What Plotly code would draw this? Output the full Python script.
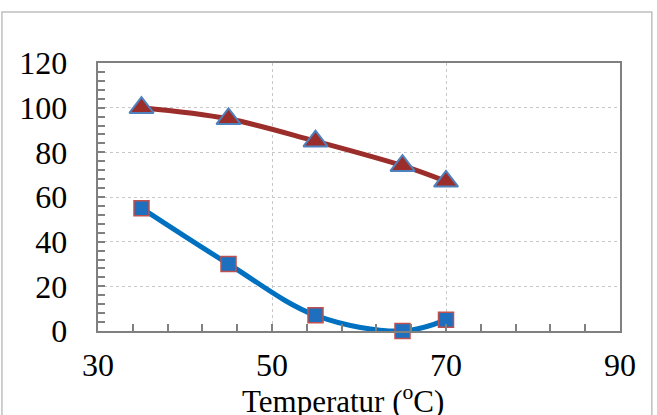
import plotly.graph_objects as go

temperature = [35, 45, 55, 65, 70]
series_triangle = [100, 95, 85, 74, 67]
series_square = [55, 30, 7, 0, 5]
x_ticks = [30, 50, 70, 90]
y_ticks = [0, 20, 40, 60, 80, 100, 120]

FONT = "Liberation Serif"

fig = go.Figure()
fig.add_trace(go.Scatter(
    x=temperature, y=series_triangle, mode="lines+markers",
    line=dict(color="#9B2D2A", width=5, shape="spline", smoothing=1),
    marker=dict(symbol="triangle-up", size=21, color="#9B2D2A",
                line=dict(color="#4F81BD", width=2)),
    showlegend=False, cliponaxis=False))
fig.add_trace(go.Scatter(
    x=temperature, y=series_square, mode="lines+markers",
    line=dict(color="#0070C0", width=5, shape="spline", smoothing=1),
    marker=dict(symbol="square", size=15, color="#1F6FBF",
                line=dict(color="#C0504D", width=1.5)),
    showlegend=False, cliponaxis=False))

axis_common = dict(
    showline=True, linecolor="#808080", linewidth=2, mirror=True,
    showgrid=True, gridcolor="#C8C8C8", gridwidth=1, griddash="dot",
    zeroline=False, ticks="inside", ticklen=7, tickcolor="#808080", tickwidth=1.5,
    tickfont=dict(family=FONT, size=32, color="#000000"), automargin=False,
)

fig.update_xaxes(
    range=[30, 90], tickvals=x_ticks, ticktext=[str(v) for v in x_ticks],
    minor=dict(dtick=4, tick0=30, ticks="inside", ticklen=7, tickcolor="#808080", tickwidth=1.5, showgrid=False),
    ticklabelstandoff=5,
    **axis_common)
fig.update_yaxes(
    range=[0, 120], tickvals=y_ticks, ticktext=[str(v) + "\u2002\u2009" for v in y_ticks],
    minor=dict(dtick=4, ticks="inside", ticklen=7, tickcolor="#808080", tickwidth=1.5, showgrid=False),
    **axis_common)

fig.add_annotation(text="Temperatur (<sup>o</sup>C)", xref="paper", yref="paper",
                   x=(343 - 98) / 522, y=(331 - 399) / 268, xanchor="center", yanchor="middle",
                   showarrow=False, font=dict(family=FONT, size=31, color="#000000"))

# outer chart border
fig.add_shape(type="rect", xref="paper", yref="paper",
              x0=-0.184, x1=1.061, y0=-0.40, y1=1.19,
              line=dict(color="#BFBFBF", width=1.5), layer="below")

fig.update_layout(
    width=657, height=415,
    margin=dict(l=98, r=37, t=63, b=84),
    paper_bgcolor="white", plot_bgcolor="white",
)
fig.write_html("out.html")
